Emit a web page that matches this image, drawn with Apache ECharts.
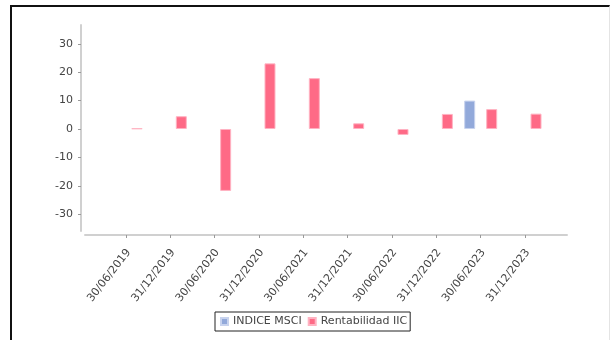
<!DOCTYPE html>
<html>
<head>
<meta charset="utf-8">
<script src="https://cdn.jsdelivr.net/npm/echarts@6/dist/echarts.min.js"></script>
<style>
  html, body { margin: 0; padding: 0; background: #fff; }
  #chart { position: absolute; left: 0; top: 0; width: 611px; height: 340px; }
  #frame { position: absolute; left: 10px; top: 5px; width: 597px; height: 340px;
           border-left: 2px solid #111; border-top: 2px solid #111; border-right: 1px solid #e4e4e4;
           pointer-events: none; }
</style>
</head>
<body>
<div id="chart"></div>
<div id="frame"></div>
<script>
const categories = ['30/06/2019', '31/12/2019', '30/06/2020', '31/12/2020', '30/06/2021',
                    '31/12/2021', '30/06/2022', '31/12/2022', '30/06/2023', '31/12/2023'];
const indiceMsci = [null, null, null, null, null, null, null, null, 10.0, null];
const rentabilidadIIC = [0.2, 4.5, -21.8, 23.1, 17.9, 2.0, -2.1, 5.3, 7.0, 5.4];
const yTickValues = [-30, -20, -10, 0, 10, 20, 30];
const yMin = -35.9, yMax = 36.6;

const chart = echarts.init(document.getElementById('chart'), null, { renderer: 'canvas' });
const axisColor = '#d0d0d0';
const textColor = '#444';
const font = 'DejaVu Sans';

chart.setOption({
  animation: false,
  backgroundColor: '#fff',
  textStyle: { fontFamily: font },
  grid: [
    { left: 85, right: 44, top: 25, bottom: 109 },
    { left: 103.8, right: 63.8, top: 25, bottom: 109 }
  ],
  xAxis: [
    { gridIndex: 0, type: 'value', min: 0, max: 1, position: 'bottom', offset: 4,
      axisLine: { show: true, onZero: false, lineStyle: { color: axisColor, width: 2 } },
      axisTick: { show: false }, axisLabel: { show: false }, splitLine: { show: false } },
    { gridIndex: 1, type: 'category', data: categories, position: 'bottom', offset: 4,
      axisLine: { show: false, onZero: false },
      axisTick: { show: true, alignWithLabel: true, length: 3, lineStyle: { color: '#999' } },
      axisLabel: { rotate: 52, margin: 2, fontSize: 11, color: textColor, fontFamily: font,
                   interval: 0, align: 'right', verticalAlign: 'top', padding: [5, 9, 0, 0] },
      splitLine: { show: false } }
  ],
  yAxis: [
    { gridIndex: 0, type: 'value', min: yMin, max: yMax, position: 'left', offset: 4,
      axisLine: { show: true, onZero: false, lineStyle: { color: axisColor, width: 2 } },
      axisTick: { show: true, length: 3, customValues: yTickValues, lineStyle: { color: '#999' } },
      axisLabel: { customValues: yTickValues, margin: 8, fontSize: 11, color: textColor, fontFamily: font },
      splitLine: { show: false } },
    { gridIndex: 1, type: 'value', min: yMin, max: yMax, show: false,
      axisLine: { onZero: false }, splitLine: { show: false } }
  ],
  legend: {
    data: ['INDICE MSCI', 'Rentabilidad IIC'],
    left: 215, top: 312,
    orient: 'horizontal',
    borderColor: '#222', borderWidth: 1, borderRadius: 0,
    padding: [4, 3, 4, 5],
    itemGap: 6, itemWidth: 7, itemHeight: 7, icon: 'rect',
    textStyle: { fontSize: 11, color: textColor, fontFamily: font }
  },
  series: [
    { name: 'INDICE MSCI', type: 'bar', xAxisIndex: 1, yAxisIndex: 1, data: indiceMsci,
      barWidth: 11, barGap: '100%',
      itemStyle: { color: '#92a9da', borderColor: '#c8d3ee', borderWidth: 1 } },
    { name: 'Rentabilidad IIC', type: 'bar', xAxisIndex: 1, yAxisIndex: 1, data: rentabilidadIIC,
      barWidth: 11, barGap: '100%',
      itemStyle: { color: '#fe6a86', borderColor: '#ffb3c2', borderWidth: 1 } }
  ]
});
</script>
</body>
</html>
